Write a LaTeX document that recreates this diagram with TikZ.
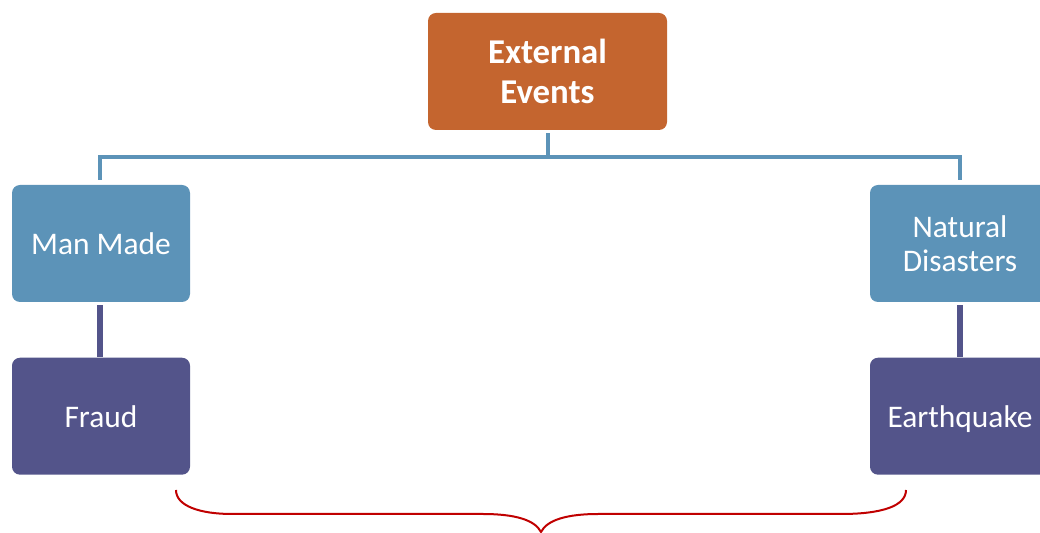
\documentclass[tikz,border=0pt]{standalone}
\usepackage{fontspec}
\setmainfont{Carlito}
\usepackage{xcolor}
\usepackage{tikz}
\usetikzlibrary{positioning,calc}
\definecolor{evOrange}{HTML}{C4652F}
\definecolor{evBlue}{HTML}{5C93B8}
\definecolor{evPurple}{HTML}{53548A}
\definecolor{lnBlue}{HTML}{5C93B8}
\definecolor{braceRed}{HTML}{C00000}
\tikzset{
  evbox/.style={rounded corners=0.16cm, draw=none, text=white, align=center,
                minimum height=2.34cm, inner sep=2pt},
  rootbox/.style={evbox, fill=evOrange, minimum width=4.78cm,
                  font=\fontsize{19.8}{22.7}\selectfont\bfseries},
  kindbox/.style={evbox, fill=evBlue, minimum width=3.56cm,
                  font=\fontsize{17.9}{19.3}\selectfont},
  casebox/.style={evbox, fill=evPurple, minimum width=3.56cm, text depth=0pt,
                  font=\fontsize{17.9}{19.3}\selectfont},
  treeline/.style={lnBlue, line width=0.08cm, shorten <=0.06cm, shorten >=0.1cm},
  caseline/.style={evPurple, line width=0.12cm, shorten <=0.06cm},
  bracepath/.style={braceRed, line width=0.04cm},
}

\begin{document}
\begin{tikzpicture}
  \useasboundingbox (0,0) rectangle (20.8,-10.66);
  \clip (0,0) rectangle (20.8,-10.66);
  \node[rootbox] (ext) at (10.95,-1.43) {External\\Events};
  \node[kindbox] (manmade) at (2.02,-4.87) {Man Made};
  \node[kindbox, minimum width=3.6cm] (natural) at (19.2,-4.87) {Natural\\Disasters};
  \node[casebox, below=1.1cm of manmade] (fraud) {Fraud};
  \node[casebox, minimum width=3.6cm, below=1.1cm of natural] (quake) {Earthquake};
  % tree lines
  \draw[treeline] (ext.south) -- ++(0,-0.54) -| ($(manmade.north)+(-0.02,0)$);
  \draw[treeline] (ext.south) -- ++(0,-0.54) -| (natural.north);
  \draw[caseline] ($(manmade.south)+(-0.02,0)$) -- ($(fraud.north)+(-0.02,0)$);
  \draw[caseline] (natural.south) -- (quake.north);
  % brace under the cases
  \coordinate (braceL) at (3.52,-9.8);
  \coordinate (braceR) at (18.12,-9.8);
  \coordinate (braceTip) at (10.82,-10.64);
  \draw[bracepath] (braceL) .. controls (3.52,-10.12) and (4.0,-10.28) .. (4.64,-10.28)
    -- (9.66,-10.28) .. controls (10.3,-10.28) and (10.7,-10.4) .. (braceTip)
    .. controls (10.94,-10.4) and (11.34,-10.28) .. (11.96,-10.28)
    -- (16.82,-10.28) .. controls (17.64,-10.28) and (18.12,-10.12) .. (braceR);
\end{tikzpicture}
\end{document}
